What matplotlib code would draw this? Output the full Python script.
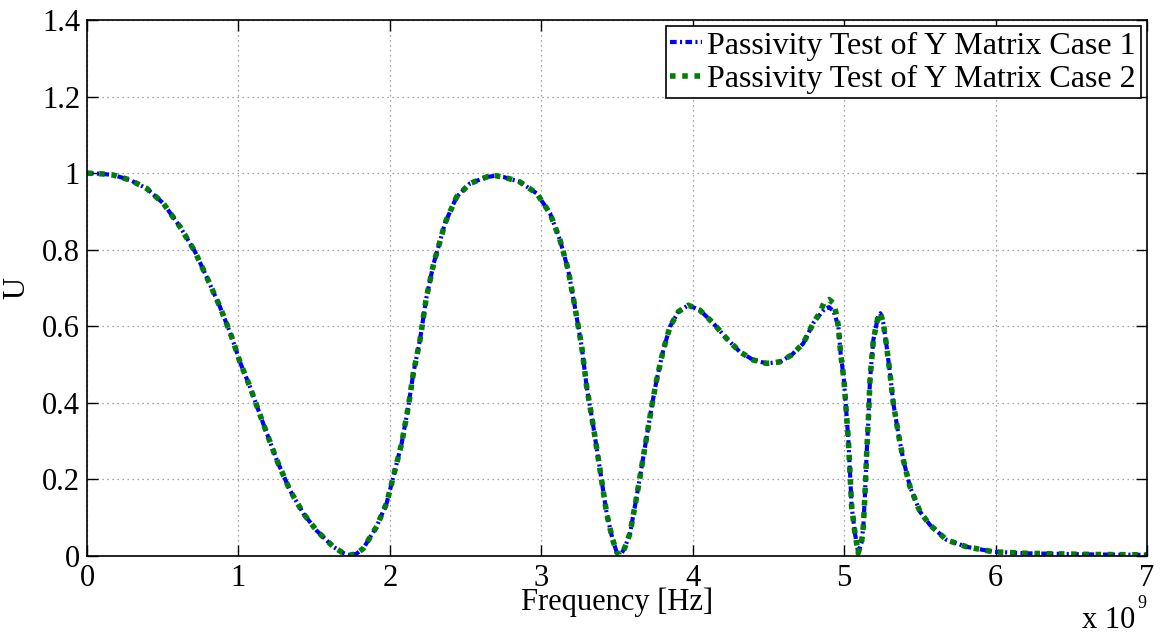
import numpy as np
import matplotlib
matplotlib.use("Agg")
import matplotlib.pyplot as plt
from matplotlib.ticker import FuncFormatter, MultipleLocator

# frequency in GHz (plotted in Hz), U values
freq_ghz = [0.00, 0.10, 0.174, 0.284, 0.394, 0.504, 0.614, 0.713, 0.790, 0.878,
            0.955, 1.010, 1.076, 1.160, 1.253, 1.340, 1.429, 1.517, 1.627, 1.690,
            1.737, 1.780, 1.825, 1.913, 1.979, 2.023, 2.078, 2.122, 2.155, 2.199,
            2.240, 2.290, 2.330, 2.364, 2.441, 2.529, 2.640, 2.700, 2.749, 2.859,
            2.970, 3.058, 3.124, 3.178, 3.222, 3.267, 3.300, 3.344, 3.388, 3.432,
            3.470, 3.498, 3.520, 3.550, 3.586, 3.630, 3.663, 3.696, 3.729, 3.762,
            3.806, 3.850, 3.905, 3.971, 4.048, 4.136, 4.224, 4.312, 4.400, 4.489,
            4.576, 4.653, 4.730, 4.796, 4.840, 4.870, 4.900, 4.930, 4.950, 4.962,
            4.977, 4.999, 5.012, 5.028, 5.039, 5.050, 5.072, 5.093, 5.115, 5.127,
            5.138, 5.149, 5.160, 5.171, 5.193, 5.226, 5.240, 5.259, 5.281, 5.303,
            5.325, 5.358, 5.391, 5.435, 5.501, 5.567, 5.677, 5.809, 5.985, 6.205,
            6.650, 7.000]

u_case1 = [1.000, 0.998, 0.995, 0.982, 0.960, 0.921, 0.860, 0.795, 0.729, 0.651,
           0.573, 0.507, 0.442, 0.350, 0.251, 0.172, 0.111, 0.066, 0.024, 0.008,
           0.002, 0.006, 0.020, 0.077, 0.138, 0.207, 0.294, 0.390, 0.477, 0.564,
           0.672, 0.765, 0.820, 0.869, 0.938, 0.973, 0.990, 0.993, 0.990, 0.977,
           0.947, 0.895, 0.825, 0.747, 0.651, 0.547, 0.442, 0.338, 0.225, 0.111,
           0.045, 0.010, 0.001, 0.020, 0.059, 0.155, 0.233, 0.311, 0.390, 0.460,
           0.538, 0.599, 0.638, 0.655, 0.642, 0.608, 0.568, 0.533, 0.512, 0.503,
           0.507, 0.525, 0.555, 0.608, 0.630, 0.645, 0.650, 0.640, 0.615, 0.599,
           0.529, 0.460, 0.390, 0.303, 0.216, 0.129, 0.059, 0.008, 0.035, 0.077,
           0.164, 0.268, 0.355, 0.460, 0.564, 0.629, 0.634, 0.608, 0.547, 0.477,
           0.399, 0.320, 0.251, 0.181, 0.116, 0.081, 0.042, 0.024, 0.011, 0.007,
           0.004, 0.003]

u_case2 = [1.000, 0.998, 0.995, 0.982, 0.960, 0.921, 0.860, 0.795, 0.729, 0.651,
           0.573, 0.507, 0.442, 0.350, 0.251, 0.172, 0.111, 0.066, 0.024, 0.008,
           0.002, 0.006, 0.020, 0.077, 0.138, 0.207, 0.294, 0.390, 0.477, 0.564,
           0.672, 0.765, 0.820, 0.869, 0.938, 0.973, 0.990, 0.993, 0.990, 0.977,
           0.947, 0.895, 0.825, 0.747, 0.651, 0.547, 0.442, 0.338, 0.225, 0.111,
           0.045, 0.010, 0.001, 0.020, 0.059, 0.155, 0.233, 0.311, 0.390, 0.460,
           0.538, 0.599, 0.638, 0.655, 0.642, 0.608, 0.568, 0.533, 0.512, 0.503,
           0.507, 0.525, 0.555, 0.608, 0.636, 0.664, 0.670, 0.660, 0.630, 0.599,
           0.529, 0.460, 0.390, 0.303, 0.216, 0.129, 0.059, 0.008, 0.035, 0.077,
           0.164, 0.268, 0.355, 0.460, 0.564, 0.629, 0.634, 0.608, 0.547, 0.477,
           0.399, 0.320, 0.251, 0.181, 0.116, 0.081, 0.042, 0.024, 0.011, 0.007,
           0.004, 0.003]

labels = ['Passivity Test of Y Matrix Case 1', 'Passivity Test of Y Matrix Case 2']

plt.rcParams['font.family'] = ['Liberation Serif', 'DejaVu Serif']
plt.rcParams['font.size'] = 22

freq_hz = np.array(freq_ghz) * 1e9

fig = plt.figure(figsize=(11.63, 6.36), dpi=100)
ax = fig.add_axes([0.0748, 0.1258, 0.9114, 0.8428])

ax.plot(freq_hz, u_case1, color=(0, 0, 1), linewidth=3,
        dashes=(1.6, 0.8, 0.5, 0.8), label=labels[0])
ax.plot(freq_hz, u_case2, color=(0, 0.5, 0), linewidth=4, dashes=(1.0, 1.2),
        label=labels[1])

ax.set_xlim(0, 7e9)
ax.set_ylim(0, 1.4)
ax.xaxis.set_major_locator(MultipleLocator(1e9))
ax.yaxis.set_major_locator(MultipleLocator(0.2))
ax.xaxis.set_major_formatter(FuncFormatter(lambda v, p: f'{v / 1e9:g}'))
ax.yaxis.set_major_formatter(FuncFormatter(lambda v, p: f'{v:g}'))
ax.tick_params(direction='in', length=8, width=1, labelsize=22, pad=6,
               top=True, right=True)
ax.tick_params(axis='y', pad=5)
for s in ax.spines.values():
    s.set_linewidth(1.2)
ax.grid(True, color='#888888', linestyle=(0, (1, 3)), linewidth=0.9)

ax.set_xlabel('Frequency [Hz]', fontsize=22)
ax.xaxis.set_label_coords(0.5, -0.058)
ax.set_ylabel('U', fontsize=22)
ax.yaxis.set_label_coords(-0.052, 0.5)

# MATLAB style exponent under the x axis
ax.text(0.939, -0.135, 'x 10', transform=ax.transAxes, fontsize=22,
        ha='left', va='baseline')
ax.text(0.9906, -0.097, '9', transform=ax.transAxes, fontsize=13,
        ha='left', va='baseline')

leg = ax.legend(loc='upper right', fontsize=23, handlelength=1.0,
                handletextpad=0.15, borderpad=0.15, labelspacing=0.12,
                borderaxespad=0.2, fancybox=False, framealpha=1)
leg.get_frame().set_edgecolor('black')
leg.get_frame().set_linewidth(1.2)

fig.savefig('out.png', dpi=100)
